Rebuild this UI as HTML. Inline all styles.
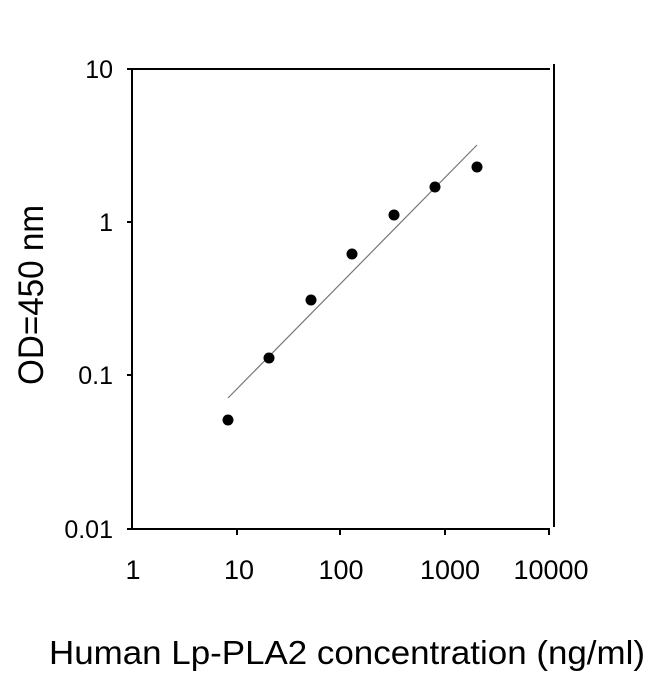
<!DOCTYPE html>
<html><head><style>body{margin:0;background:#fff}</style></head><body>
<svg width="650" height="674" xmlns="http://www.w3.org/2000/svg" font-family="Liberation Sans, Arial, sans-serif" fill="#000">
<rect width="650" height="674" fill="#fff"/>
<g stroke="#000" stroke-width="2" fill="none">
<path d="M132 69V529H550"/>
<path d="M132 69H550"/>
<path d="M554 64V527"/>
<path d="M127 69H132M127 222H132M127 375H132M127 529H132"/>
<path d="M237 529V535M340 529V535M445 529V535M549 529V535"/>
</g>
<line x1="228" y1="398" x2="477" y2="145" stroke="#777" stroke-width="1.2"/>
<g>
<circle cx="228" cy="420" r="5.5"/><circle cx="269" cy="358" r="5.5"/><circle cx="311" cy="300" r="5.5"/><circle cx="352" cy="254" r="5.5"/><circle cx="394" cy="215" r="5.5"/><circle cx="435" cy="187" r="5.5"/><circle cx="477" cy="167" r="5.5"/>
</g>
<g font-size="25" text-anchor="end">
<text x="113" y="78">10</text><text x="113" y="231">1</text><text x="113" y="384">0.1</text><text x="113" y="538">0.01</text>
</g>
<g font-size="27" text-anchor="middle">
<text x="133" y="579">1</text><text x="239" y="579">10</text><text x="341" y="579">100</text><text x="450" y="579">1000</text><text x="551" y="579">10000</text>
</g>
<text x="49" y="664" font-size="33" textLength="596" lengthAdjust="spacingAndGlyphs">Human Lp-PLA2 concentration (ng/ml)</text>
<text transform="translate(43,385) rotate(-90) scale(1,1.15)" x="0" y="0" font-size="31" textLength="180" lengthAdjust="spacingAndGlyphs">OD=450 nm</text>
</svg>
</body></html>
